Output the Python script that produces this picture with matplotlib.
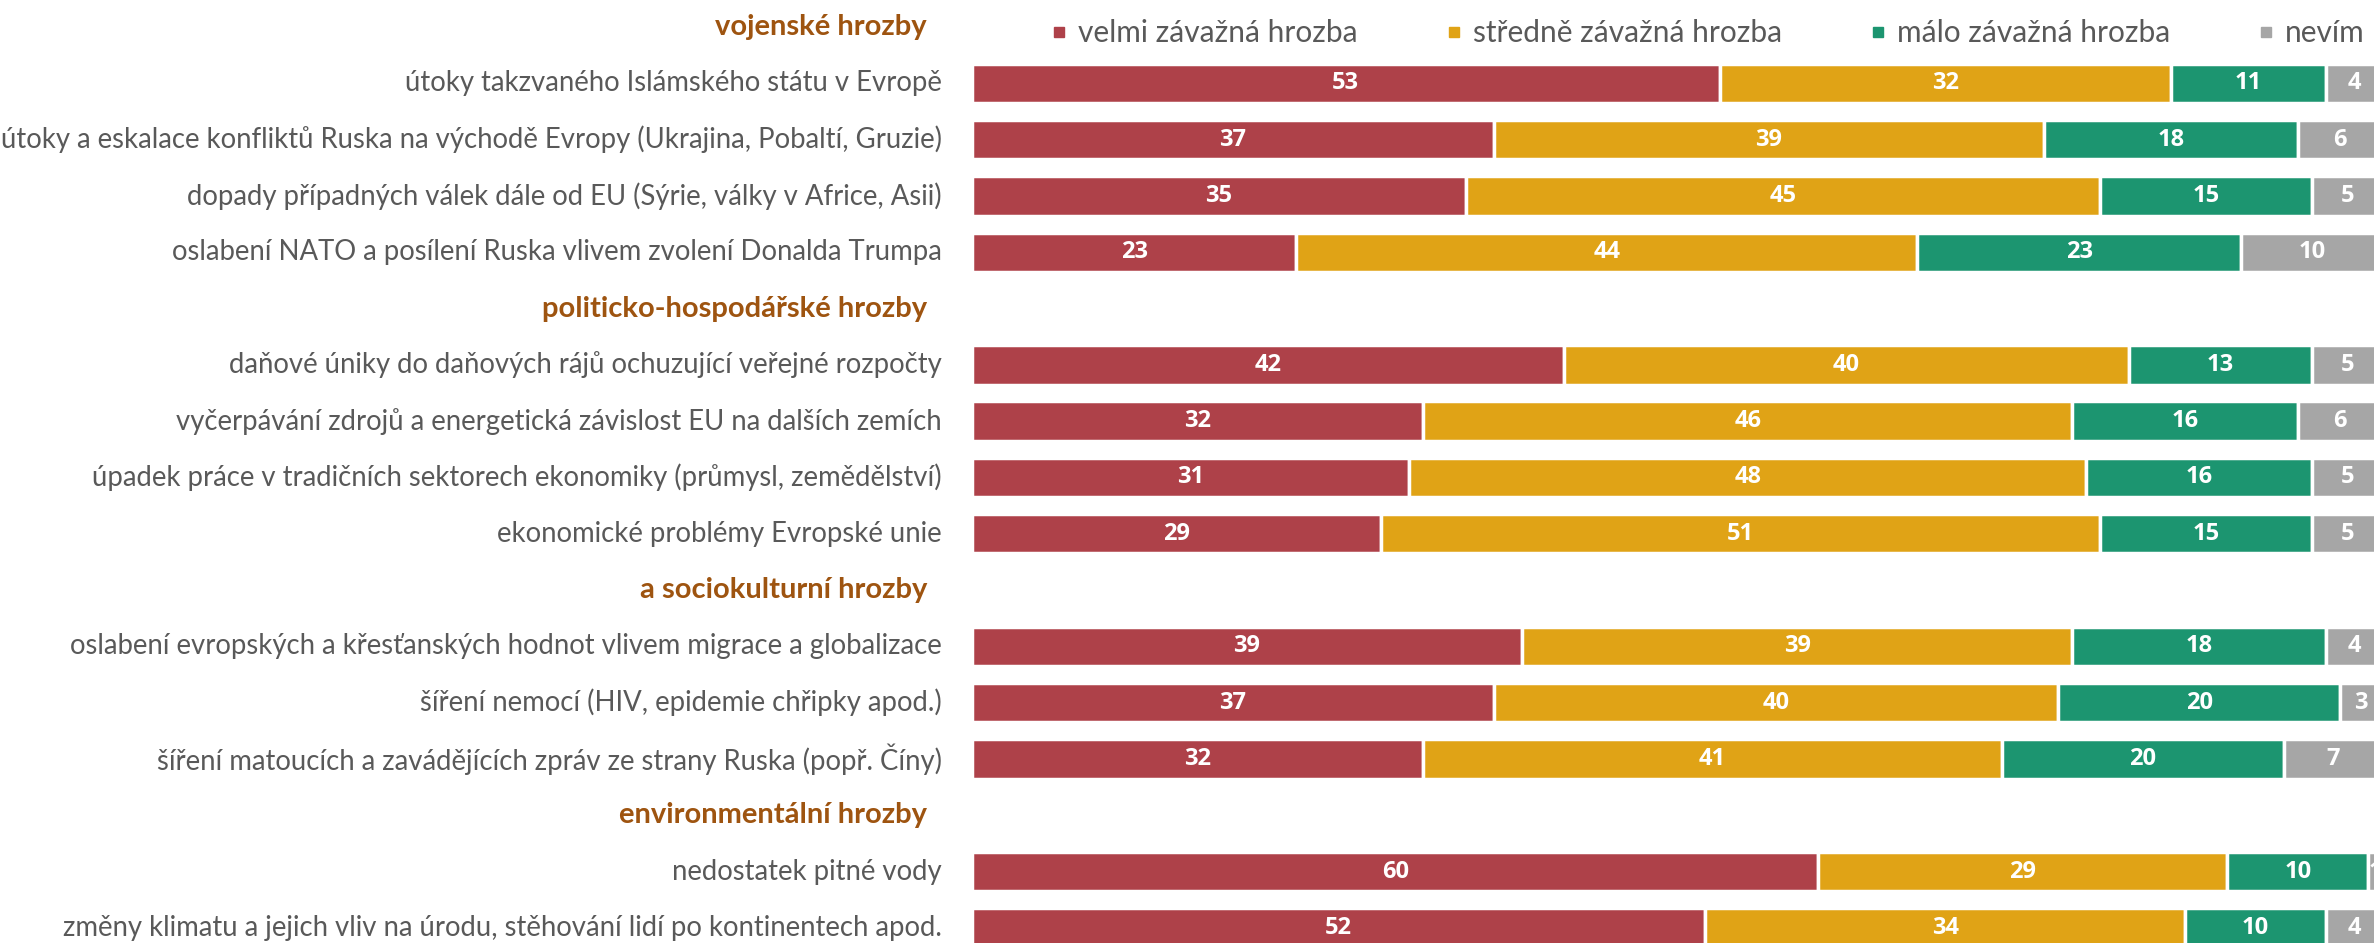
import numpy as np
import matplotlib.pyplot as plt
from matplotlib.lines import Line2D

# ============================================================
# data
# ============================================================
headers = ["vojenské hrozby", "politicko-hospodářské hrozby",
           "a sociokulturní hrozby", "environmentální hrozby"]

labels = [
    "útoky takzvaného Islámského státu v Evropě",
    "útoky a eskalace konfliktů Ruska na východě Evropy (Ukrajina, Pobaltí, Gruzie)",
    "dopady případných válek dále od EU (Sýrie, války v Africe, Asii)",
    "oslabení NATO a posílení Ruska vlivem zvolení Donalda Trumpa",
    "daňové úniky do daňových rájů ochuzující veřejné rozpočty",
    "vyčerpávání zdrojů a energetická závislost EU na dalších zemích",
    "úpadek práce v tradičních sektorech ekonomiky (průmysl, zemědělství)",
    "ekonomické problémy Evropské unie",
    "oslabení evropských a křesťanských hodnot vlivem migrace a globalizace",
    "šíření nemocí (HIV, epidemie chřipky apod.)",
    "šíření matoucích a zavádějících zpráv ze strany Ruska (popř. Číny)",
    "nedostatek pitné vody",
    "změny klimatu a jejich vliv na úrodu, stěhování lidí po kontinentech apod.",
]
group_sizes = [4, 4, 3, 2]

series = ["velmi závažná hrozba", "středně závažná hrozba",
          "málo závažná hrozba", "nevím"]
velmi   = [53, 37, 35, 23, 42, 32, 31, 29, 39, 37, 32, 60, 52]
stredne = [32, 39, 45, 44, 40, 46, 48, 51, 39, 40, 41, 29, 34]
malo    = [11, 18, 15, 23, 13, 16, 16, 15, 18, 20, 20, 10, 10]
nevim   = [4, 6, 5, 10, 5, 6, 5, 5, 4, 3, 7, 1, 4]

colors = ["#AE4149", "#E0A316", "#1C9570", "#A6A6A6"]
label_color = "#595959"
header_color = "#9E5410"

# ============================================================
# layout of rows (header slot + item slots)
# ============================================================
header_pos = []
row_pos = []
k = 0
for n in group_sizes:
    header_pos.append(k)
    k += 1
    for _ in range(n):
        row_pos.append(k)
        k += 1
row_pos = np.array(row_pos)

W, H = 2374, 943
fig = plt.figure(figsize=(W / 100, H / 100), dpi=100)
x0 = 972 / W
ax = fig.add_axes([x0, 0, 1 - x0, 1])

values = [velmi, stredne, malo, nevim]
left = np.zeros(len(labels))
for name, vals, c in zip(series, values, colors):
    vals = np.array(vals)
    ax.barh(row_pos, vals, left=left, height=0.7, color=c,
            edgecolor="white", linewidth=2.5, label=name)
    for y, l, v in zip(row_pos, left, vals):
        ax.text(l + v / 2, y, str(v), ha="center", va="center",
                color="white", fontsize=17, fontweight="bold",
                family="Open Sans")
    left += vals

ax.set_xlim(0, 99.4)
ax.set_ylim(16.27, -0.48)
ax.axis("off")

# category labels and section headers
for y, t in zip(row_pos, labels):
    ax.text(-30 / 1402, y, t, transform=ax.get_yaxis_transform(),
            ha="right", va="center", color=label_color, fontsize=19.8,
            family="Lato")
for y, t in zip(header_pos, headers):
    ax.text(-45 / 1402, y, t, transform=ax.get_yaxis_transform(),
            ha="right", va="center", color=header_color, fontsize=21,
            fontweight="bold", family="Lato")

handles = [Line2D([], [], marker="s", linestyle="none", markersize=7,
                  color=c) for c in colors]
fig.legend(handles, series, loc="center left",
           bbox_to_anchor=(1050 / W, 1 - 33 / H), ncol=4, frameon=False,
           borderaxespad=0, borderpad=0, handlelength=0.6, handletextpad=0.35,
           columnspacing=2.9,
           prop={"family": "Lato", "size": 21.5}, labelcolor=label_color)

fig.savefig("out.png", dpi=100)
